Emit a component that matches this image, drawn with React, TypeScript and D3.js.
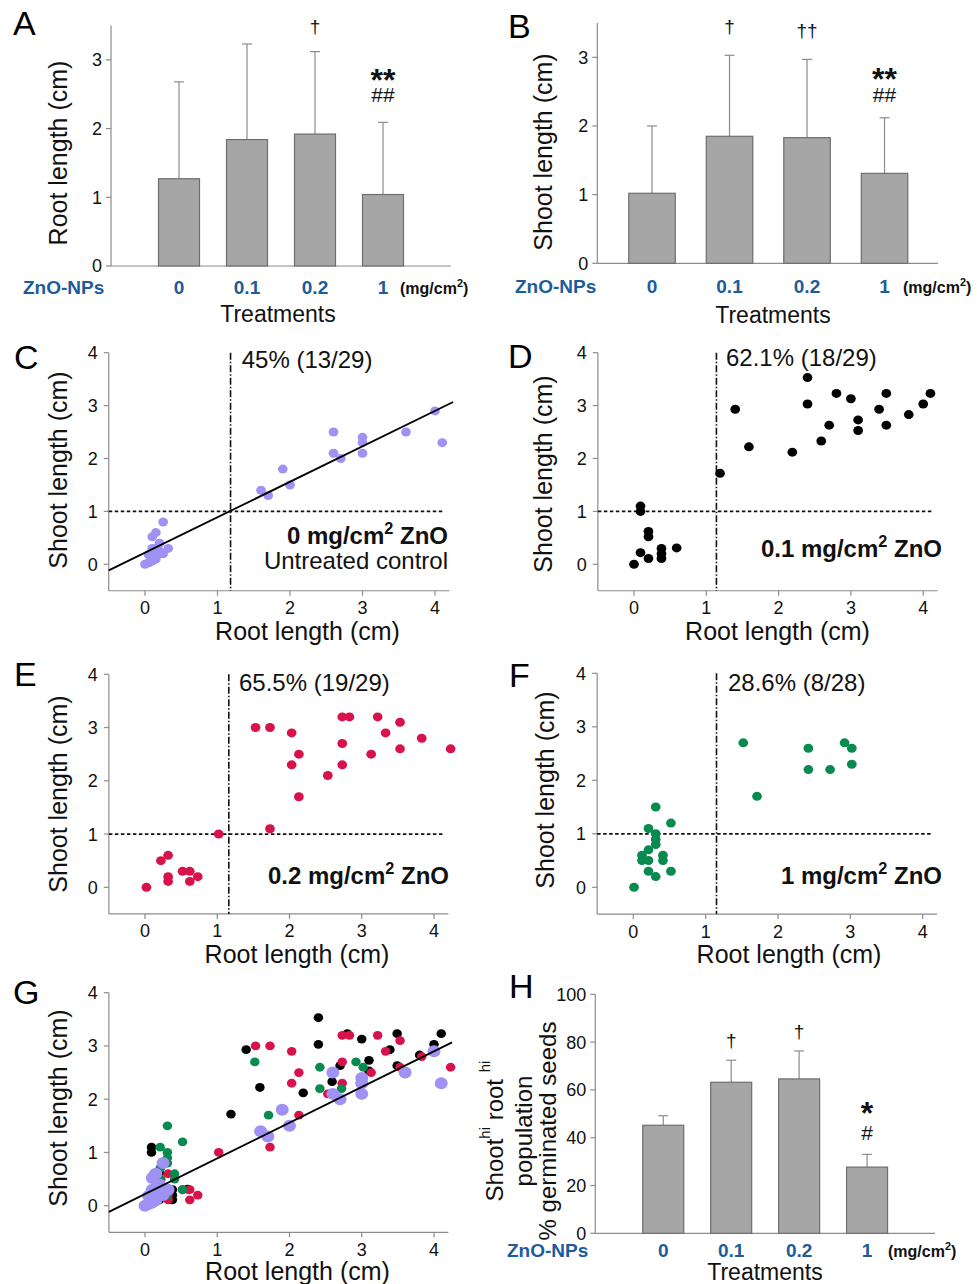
import React from "react";
import * as d3 from "d3";

// ---------------- DATA ----------------
const treatments = ["0", "0.1", "0.2", "1"];

const rootMean = [1.27, 1.84, 1.92, 1.04];
const rootSD = [1.41, 1.39, 1.2, 1.05];
const rootMarks = [[], [], ["†"], ["**", "##"]];

const shootMean = [1.02, 1.85, 1.83, 1.31];
const shootSD = [0.98, 1.18, 1.14, 0.81];
const shootMarks = [[], ["†"], ["††"], ["**", "##"]];

const popMean = [45.2, 63.2, 64.6, 27.7];
const popSE = [4.0, 9.2, 11.7, 5.3];
const popMarks = [[], ["†"], ["†"], ["*", "#"]];

const barTicksLen = [0, 1, 2, 3];
const popTicks = [0, 20, 40, 60, 80, 100];
const scatterTicks = [0, 1, 2, 3, 4];

// [root length, shoot length]
const ctrlPoints: [number, number][] = [
  [0, 0], [0.05, 0.03], [0.1, 0.06], [0.15, 0.1], [0.05, 0.18], [0.1, 0.2], [0.2, 0.2], [0.25, 0.2],
  [0.1, 0.3], [0.2, 0.25], [0.32, 0.3], [0.15, 0.3], [0.2, 0.4], [0.1, 0.52], [0.15, 0.6], [0.25, 0.8],
  [1.6, 1.4], [1.7, 1.3], [1.9, 1.8], [2.0, 1.5], [2.6, 2.5], [2.6, 2.1], [2.7, 2.0], [3.0, 2.4],
  [3.0, 2.3], [3.0, 2.1], [3.6, 2.5], [4.0, 2.9], [4.1, 2.3],
];
const zn01Points: [number, number][] = [
  [0, 0], [0.09, 1.1], [0.09, 1.0], [0.2, 0.62], [0.2, 0.52], [0.09, 0.22], [0.2, 0.11],
  [0.38, 0.3], [0.38, 0.2], [0.38, 0.11], [0.59, 0.31],
  [1.19, 1.72], [1.4, 2.93], [1.59, 2.22], [2.19, 2.12], [2.4, 3.53], [2.4, 3.03], [2.59, 2.33],
  [2.7, 2.63], [2.8, 3.23], [3.0, 3.13], [3.1, 2.73], [3.1, 2.53], [3.39, 2.93], [3.49, 3.23],
  [3.49, 2.63], [3.8, 2.83], [4.0, 3.03], [4.1, 3.23],
];
const zn02Points: [number, number][] = [
  [0.02, 0], [0.22, 0.5], [0.32, 0.6], [0.32, 0.2], [0.32, 0.11], [0.52, 0.3], [0.62, 0.3],
  [0.62, 0.11], [0.73, 0.2], [1.02, 1.0],
  [1.53, 3.0], [1.73, 3.0], [1.73, 1.1], [2.03, 2.9], [2.03, 2.3], [2.13, 2.5], [2.13, 1.7],
  [2.53, 2.1], [2.73, 3.2], [2.83, 3.2], [2.73, 2.7], [2.73, 2.3], [3.13, 2.5], [3.22, 3.2],
  [3.33, 2.9], [3.53, 3.1], [3.53, 2.6], [3.83, 2.8], [4.23, 2.6],
];
const zn1Points: [number, number][] = [
  [0.31, 1.5], [0.52, 1.2], [0.21, 1.1], [0.31, 1.0], [0.31, 0.9], [0.31, 0.8], [0.21, 0.7],
  [0.12, 0.6], [0.12, 0.5], [0.21, 0.5], [0.41, 0.6], [0.41, 0.5], [0.21, 0.3], [0.52, 0.3],
  [0.31, 0.2], [0.01, 0],
  [1.52, 2.7], [1.71, 1.7], [2.42, 2.6], [2.42, 2.2], [2.72, 2.2], [2.92, 2.7], [3.02, 2.6], [3.02, 2.3],
];

const regIntercept = 0.22;
const regSlope = 0.67;

// ---------------- STYLE ----------------
const FONT = "'Liberation Sans', Arial, Helvetica, sans-serif";
const AXIS = "#8c8c8c";
const BLUE = "#1d5c9b";
const BAR_FILL = "#a6a6a6";
const BAR_STROKE = "#6e6e6e";
const PURPLE = "#9f92f3";
const RED = "#d8124a";
const GREEN = "#088a50";
const BLACK = "#000000";

function Sup({ text, sup, size, after = "" }: any) {
  const s = size * 0.68;
  const shift = size * 0.42;
  return (
    <>
      <tspan>{text}</tspan>
      <tspan fontSize={s} dy={-shift}>{sup}</tspan>
      <tspan dy={shift}>{after}</tspan>
    </>
  );
}

function BarPanel({ cfg }: any) {
  const x = d3.scaleLinear().domain(cfg.xDomain).range([cfg.left, cfg.right]);
  const y = d3.scaleLinear().domain([0, cfg.yMax]).range([cfg.zero, cfg.top]);
  const bw = cfg.barWidth;
  return (
    <g fontFamily={FONT}>
      <text x={cfg.letter[1]} y={cfg.letter[2]} fontSize={34}>{cfg.letter[0]}</text>
      <line x1={cfg.left} x2={cfg.left} y1={cfg.top} y2={cfg.zero} stroke={AXIS} strokeWidth={1.2} />
      <line x1={cfg.left} x2={cfg.right} y1={cfg.zero} y2={cfg.zero} stroke={AXIS} strokeWidth={1.2} />
      {cfg.ticks.map((t: number) => (
        <g key={t}>
          <line x1={cfg.left - 5} x2={cfg.left} y1={y(t)} y2={y(t)} stroke={AXIS} strokeWidth={1.2} />
          <text x={cfg.left - 9} y={y(t)} dy="0.36em" textAnchor="end" fontSize={18} fill="#111">{t}</text>
        </g>
      ))}
      {cfg.means.map((m: number, i: number) => {
        const cx = x(i);
        const top = y(m + cfg.errs[i]);
        return (
          <g key={i}>
            <line x1={cx} x2={cx} y1={y(m)} y2={top} stroke={AXIS} strokeWidth={1.2} />
            <line x1={cx - 5} x2={cx + 5} y1={top} y2={top} stroke={AXIS} strokeWidth={1.2} />
            <rect x={cx - bw / 2} y={y(m)} width={bw} height={cfg.zero - y(m)} fill={BAR_FILL} stroke={BAR_STROKE} strokeWidth={1.2} />
            {cfg.marks[i].length === 1 && (
              <text x={cx} y={top - cfg.markGap1} textAnchor="middle" fontSize={19} fill="#111">{cfg.marks[i][0]}</text>
            )}
            {cfg.marks[i].length === 2 && (
              <>
                <text x={cx} y={top - cfg.markGap2[0]} textAnchor="middle" fontSize={32} fontWeight="bold" fill="#111">{cfg.marks[i][0]}</text>
                <text x={cx} y={top - cfg.markGap2[1]} textAnchor="middle" fontSize={21} fill="#111">{cfg.marks[i][1]}</text>
              </>
            )}
            <text x={cx} y={cfg.labelY} textAnchor="middle" fontSize={19} fontWeight="bold" fill={BLUE}>{treatments[i]}</text>
          </g>
        );
      })}
      <text x={cfg.znoX} y={cfg.labelY} fontSize={19} fontWeight="bold" fill={BLUE}>ZnO-NPs</text>
      <text x={cfg.unitX} y={cfg.labelY} fontSize={16} fontWeight="bold" fill="#111">
        <Sup text="(mg/cm" sup="2" size={16} after=")" />
      </text>
      <text x={cfg.treatX} y={cfg.treatY} textAnchor="middle" fontSize={23} fill="#111">Treatments</text>
      {cfg.yTitle.map((line: any, k: number) => (
        <text key={k} transform={`translate(${line.x},${cfg.yTitleY}) rotate(-90)`} textAnchor="middle" dominantBaseline="central" fontSize={line.size || 25} fill="#111">
          {line.content}
        </text>
      ))}
    </g>
  );
}

function ScatterPanel({ cfg }: any) {
  const x = d3.scaleLinear().domain([0, 4]).range([cfg.x0, cfg.x0 + 4 * cfg.xUnit]);
  const y = d3.scaleLinear().domain([0, 4]).range([cfg.y0, cfg.y0 - 4 * cfg.yUnit]);
  const xl = x(-0.5), xr = x(4.2), yb = y(-0.5), yt = y(4);
  return (
    <g fontFamily={FONT}>
      <text x={cfg.letter[1]} y={cfg.letter[2]} fontSize={34}>{cfg.letter[0]}</text>
      <line x1={xl} x2={xl} y1={yt} y2={yb} stroke={AXIS} strokeWidth={1.2} />
      <line x1={xl} x2={xr} y1={yb} y2={yb} stroke={AXIS} strokeWidth={1.2} />
      {scatterTicks.map((t) => (
        <g key={t}>
          <line x1={xl - 5} x2={xl} y1={y(t)} y2={y(t)} stroke={AXIS} strokeWidth={1.2} />
          <text x={xl - 11} y={y(t)} dy="0.36em" textAnchor="end" fontSize={18} fill="#111">{t}</text>
          <line x1={x(t)} x2={x(t)} y1={yb} y2={yb + 5} stroke={AXIS} strokeWidth={1.2} />
          <text x={x(t)} y={yb + 17} dy="0.36em" textAnchor="middle" fontSize={18} fill="#111">{t}</text>
        </g>
      ))}
      {cfg.threshold != null && (
        <>
          <line x1={xl} x2={x(4.12)} y1={y(1)} y2={y(1)} stroke="#111" strokeWidth={1.8} strokeDasharray="3.5,2.5" />
          <line x1={x(cfg.threshold)} x2={x(cfg.threshold)} y1={yt} y2={yb} stroke="#111" strokeWidth={1.6} strokeDasharray="7,2,1.5,2" />
        </>
      )}
      {cfg.series.map((s: any, si: number) => (
        <g key={si}>
          {s.points.map((p: [number, number], i: number) => (
            <ellipse key={i} cx={x(p[0])} cy={y(p[1])} rx={s.r * 1.08} ry={s.r} fill={s.color} />
          ))}
        </g>
      ))}
      {cfg.regression && (
        <line x1={x(-0.5)} x2={x(4.25)} y1={y(regIntercept + regSlope * -0.5)} y2={y(regIntercept + regSlope * 4.25)} stroke="#000" strokeWidth={1.8} />
      )}
      {cfg.quad && (
        <text x={cfg.quad[1]} y={cfg.quad[2]} fontSize={24} fill="#111">{cfg.quad[0]}</text>
      )}
      {cfg.label && (
        <text x={cfg.label.x} y={cfg.label.y} textAnchor="end" fontSize={24} fontWeight="bold" fill="#111">
          <Sup text={cfg.label.dose + " mg/cm"} sup="2" size={24} after=" ZnO" />
        </text>
      )}
      {cfg.sub && (
        <text x={cfg.sub.x} y={cfg.sub.y} textAnchor="end" fontSize={24} fill="#111">{cfg.sub.text}</text>
      )}
      <text x={cfg.xTitle[0]} y={cfg.xTitle[1]} textAnchor="middle" fontSize={25} fill="#111">Root length (cm)</text>
      <text transform={`translate(${cfg.yTitle[0]},${cfg.yTitle[1]}) rotate(-90)`} textAnchor="middle" dominantBaseline="central" fontSize={25} fill="#111">
        Shoot length (cm)
      </text>
    </g>
  );
}

export default function App() {
  const A = {
    letter: ["A", 13, 35], left: 111, right: 451, zero: 266, top: 25.5, yMax: 3.5, xDomain: [-1, 4],
    barWidth: 41, ticks: barTicksLen, means: rootMean, errs: rootSD, marks: rootMarks,
    markGap1: 19, markGap2: [31, 20], labelY: 294, znoX: 23, unitX: 400, treatX: 278, treatY: 322,
    yTitleY: 153, yTitle: [{ x: 58, content: "Root length (cm)" }],
  };
  const B = {
    letter: ["B", 508, 38], left: 597.3, right: 938, zero: 263.3, top: 23, yMax: 3.5, xDomain: [-0.706, 3.69],
    barWidth: 46.5, ticks: barTicksLen, means: shootMean, errs: shootSD, marks: shootMarks,
    markGap1: 22, markGap2: [28, 16], labelY: 293, znoX: 515, unitX: 903, treatX: 773, treatY: 323,
    yTitleY: 152, yTitle: [{ x: 543, content: "Shoot length (cm)" }],
  };
  const H = {
    letter: ["H", 509, 998], left: 595.3, right: 935, zero: 1233.3, top: 994.3, yMax: 100, xDomain: [-1, 4],
    barWidth: 41, ticks: popTicks, means: popMean, errs: popSE, marks: popMarks,
    markGap1: 13, markGap2: [30, 14], labelY: 1257, znoX: 507, unitX: 888, treatX: 765, treatY: 1280,
    yTitleY: 1131,
    yTitle: [
      { x: 494, size: 24, content: (<><tspan>Shoot</tspan><tspan fontSize={15} dy={-10}>hi</tspan><tspan dy={10}> root </tspan><tspan fontSize={15} dy={-10}>hi</tspan></>) },
      { x: 523, size: 24, content: "population" },
      { x: 547, size: 24, content: "% germinated seeds" },
    ],
  };

  const C = {
    letter: ["C", 14, 369], x0: 145, xUnit: 72.5, y0: 564.3, yUnit: 52.9, threshold: 1.18, regression: true,
    series: [{ points: ctrlPoints, color: PURPLE, r: 4.5 }],
    quad: ["45% (13/29)", 241.7, 368], label: { dose: "0", x: 448, y: 544 }, sub: { text: "Untreated control", x: 448, y: 569 },
    xTitle: [307.5, 640], yTitle: [58, 470],
  };
  const D = {
    letter: ["D", 508, 368], x0: 634, xUnit: 72.3, y0: 564.3, yUnit: 52.9, threshold: 1.14, regression: false,
    series: [{ points: zn01Points, color: BLACK, r: 4.5 }],
    quad: ["62.1% (18/29)", 726, 366], label: { dose: "0.1", x: 942, y: 557 },
    xTitle: [777.5, 640], yTitle: [543, 474],
  };
  const E = {
    letter: ["E", 14, 686], x0: 145, xUnit: 72.25, y0: 887.3, yUnit: 53.25, threshold: 1.16, regression: false,
    series: [{ points: zn02Points, color: RED, r: 4.5 }],
    quad: ["65.5% (19/29)", 239, 691], label: { dose: "0.2", x: 449, y: 884 },
    xTitle: [297, 963], yTitle: [58, 794],
  };
  const F = {
    letter: ["F", 509, 687], x0: 633.3, xUnit: 72.35, y0: 887.3, yUnit: 53.5, threshold: 1.15, regression: false,
    series: [{ points: zn1Points, color: GREEN, r: 4.5 }],
    quad: ["28.6% (8/28)", 728, 691], label: { dose: "1", x: 942, y: 884 },
    xTitle: [789, 963], yTitle: [545, 790],
  };
  const G = {
    letter: ["G", 13, 1004], x0: 145, xUnit: 72.25, y0: 1205.7, yUnit: 53.25, threshold: null, regression: true,
    series: [
      { points: zn01Points, color: BLACK, r: 4.4 },
      { points: zn02Points, color: RED, r: 4.4 },
      { points: zn1Points, color: GREEN, r: 4.4 },
      { points: ctrlPoints, color: PURPLE, r: 6 },
    ],
    xTitle: [297.5, 1280], yTitle: [58, 1108],
  };

  return (
    <svg width={977} height={1284} style={{ position: "absolute", left: 0, top: 0, background: "#fff" }}>
      <rect width={977} height={1284} fill="#fff" />
      <BarPanel cfg={A} />
      <BarPanel cfg={B} />
      <ScatterPanel cfg={C} />
      <ScatterPanel cfg={D} />
      <ScatterPanel cfg={E} />
      <ScatterPanel cfg={F} />
      <ScatterPanel cfg={G} />
      <BarPanel cfg={H} />
    </svg>
  );
}
